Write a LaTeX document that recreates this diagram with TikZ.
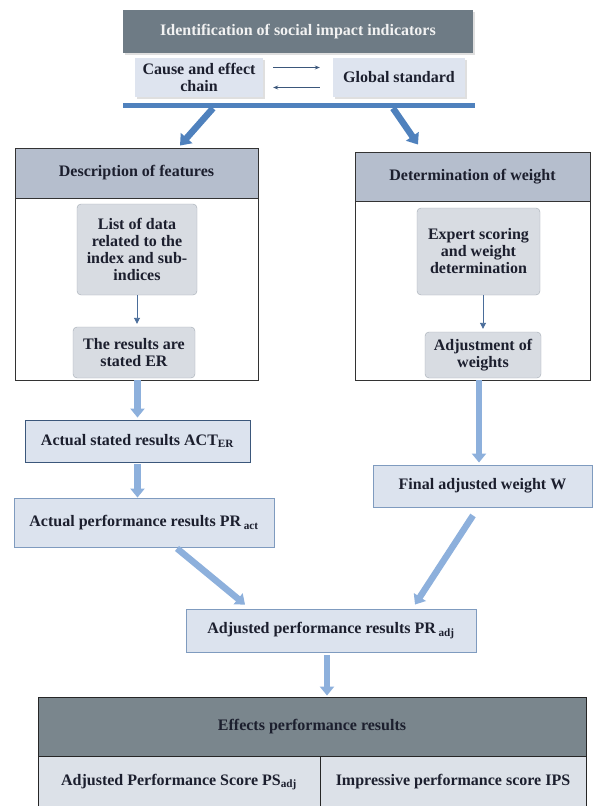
\documentclass[tikz,border=0pt]{standalone}
\usepackage{fontspec}
\setmainfont{Liberation Serif}
\usepackage{xcolor}
\usepackage{tikz}
\usetikzlibrary{arrows.meta,shadows}
\definecolor{sitext}{HTML}{1C1F2E}
\definecolor{sidark}{HTML}{6E7B85}
\definecolor{silink}{HTML}{DEE4EF}
\definecolor{siband}{HTML}{4F81BD}
\definecolor{sihead}{HTML}{B5BECD}
\definecolor{siinner}{HTML}{D8DCE2}
\definecolor{siedge}{HTML}{A3AAB3}
\definecolor{sires}{HTML}{DCE3EE}
\definecolor{sireline}{HTML}{7F9BBF}
\definecolor{sitab}{HTML}{7A868D}
\definecolor{sicell}{HTML}{DCE1E8}
\definecolor{simid}{HTML}{8DB0DC}
\definecolor{sismall}{HTML}{4A6D9A}

\begin{document}
\begin{tikzpicture}[x=1pt, y=-1pt,
  font=\fontsize{16}{17}\selectfont\bfseries, text=sitext,
  head/.style={rectangle, fill=sidark, text=white!95!black, inner sep=0pt,
               drop shadow={shadow xshift=1.5pt, shadow yshift=-1.5pt, opacity=0.25}},
  link/.style={rectangle, fill=silink, align=center, inner sep=0pt,
               drop shadow={shadow xshift=2pt, shadow yshift=-2pt, opacity=0.25}},
  band/.style={rectangle, fill=siband, inner sep=0pt},
  frame/.style={rectangle, draw=black!80, line width=0.9pt, inner sep=0pt},
  fhead/.style={rectangle, fill=sihead, draw=black!80, line width=0.9pt, inner sep=0pt},
  inner/.style={rectangle, rounded corners=4pt, fill=siinner, draw=siedge, align=center, inner sep=0pt},
  res/.style={rectangle, fill=sires, draw=sireline, line width=0.9pt, align=center, inner sep=0pt},
  tabhead/.style={rectangle, fill=sitab, draw=black!85, line width=0.9pt, inner sep=0pt},
  tabcell/.style={rectangle, fill=sicell, draw=black!85, line width=0.9pt, inner sep=0pt},
  linkarr/.style={-{Stealth[length=5pt,width=4pt]}, draw=sismall!80!black, line width=0.8pt},
  thinarr/.style={-{Triangle[length=6pt,width=6pt]}, draw=sismall, line width=0.9pt},
  toparr/.style={-{Triangle[length=10pt,width=15pt]}, draw=siband, line width=6.5pt},
  bigarr/.style={-{Triangle[length=9pt,width=14pt]}, draw=simid, line width=6.5pt}
]
\useasboundingbox (0,0) rectangle (593,806);

\node[head, minimum width=350pt, minimum height=43pt] (ident) at (298,31.5) {Identification of social impact indicators};
\node[link, minimum width=128pt, minimum height=39pt] (cause) at (199,77.5) {Cause and effect\\chain};
\node[link, minimum width=132pt, minimum height=39pt] (global) at (399,77.5) {Global standard};
\node[band, minimum width=352pt, minimum height=5pt] (band) at (299,105.5) {};

\node[frame, minimum width=243pt, minimum height=232pt] (descframe) at (136.5,264) {};
\node[fhead, minimum width=243pt, minimum height=50pt] (deschead) at (136.5,173) {Description of features};
\node[frame, minimum width=235pt, minimum height=228pt] (wgtframe) at (472.5,266) {};
\node[fhead, minimum width=235pt, minimum height=49pt] (wgthead) at (472.5,176.5) {Determination of weight};

\node[inner, minimum width=120pt, minimum height=91pt] (datalist) at (137,249.5) {List of data\\related to the\\index and sub-\\indices};
\node[inner, minimum width=122pt, minimum height=51pt] (stated) at (134,352.5) {The results are\\stated ER};
\node[inner, minimum width=123pt, minimum height=87pt] (expert) at (478.5,251.5) {Expert scoring\\and weight\\determination};
\node[inner, minimum width=116pt, minimum height=46pt] (adjust) at (483,355) {Adjustment of\\weights};

\node[res, draw=sismall!80!black, minimum width=225pt, minimum height=42pt] (actstated) at (137.5,441) {Actual stated results ACT\textsubscript{ER}};
\node[res, minimum width=260pt, minimum height=49pt] (practual) at (144,522.5) {Actual performance results PR\,\textsubscript{act}};
\node[res, minimum width=219pt, minimum height=42pt] (finalw) at (482.5,486) {Final adjusted weight W};
\node[res, minimum width=290pt, minimum height=43pt] (pradj) at (331,630.5) {Adjusted performance results PR\,\textsubscript{adj}};

\node[tabhead, minimum width=548pt, minimum height=59pt] (effects) at (312,726.5) {Effects performance results};
\node[tabcell, minimum width=282pt, minimum height=52pt] (psadj) at (179,782) {Adjusted Performance Score PS\textsubscript{adj}};
\node[tabcell, minimum width=266pt, minimum height=52pt] (ips) at (453,782) {Impressive performance score IPS};

\draw[linkarr, shorten <=10pt, shorten >=13pt] ([yshift=10pt]cause.east) -- ([yshift=10pt]global.west);
\draw[linkarr, shorten <=13pt, shorten >=10pt] ([yshift=-10pt]global.west) -- ([yshift=-10pt]cause.east);

\draw[toparr] ([xshift=-86pt]band.south) -- ([xshift=43.5pt,yshift=2pt]descframe.north);
\draw[toparr] ([xshift=94pt]band.south) -- ([xshift=-54.5pt,yshift=7pt]wgtframe.north);

\draw[thinarr, shorten >=3pt] (datalist.south) -- (datalist.south |- stated.north);
\draw[thinarr, shorten >=3pt] (adjust.north |- expert.south) -- (adjust.north);

\draw[bigarr, shorten >=2pt] (descframe.south -| actstated.north) -- (actstated.north);
\draw[bigarr, shorten <=2pt] (actstated.south) -- (actstated.south |- practual.north);
\draw[bigarr, shorten >=2pt] ([xshift=-3.5pt]finalw.north |- wgtframe.south) -- ([xshift=-3.5pt]finalw.north);
\draw[bigarr] ([xshift=33pt,yshift=-1pt]practual.south) -- ([xshift=-86pt,yshift=4pt]pradj.north);
\draw[bigarr] ([xshift=-9.5pt,yshift=-8pt]finalw.south) -- ([xshift=84pt,yshift=4pt]pradj.north);
\draw[bigarr, shorten <=3pt, shorten >=1pt] ([xshift=-4pt]pradj.south) -- ([xshift=-4pt]pradj.south |- effects.north);
\end{tikzpicture}
\end{document}
